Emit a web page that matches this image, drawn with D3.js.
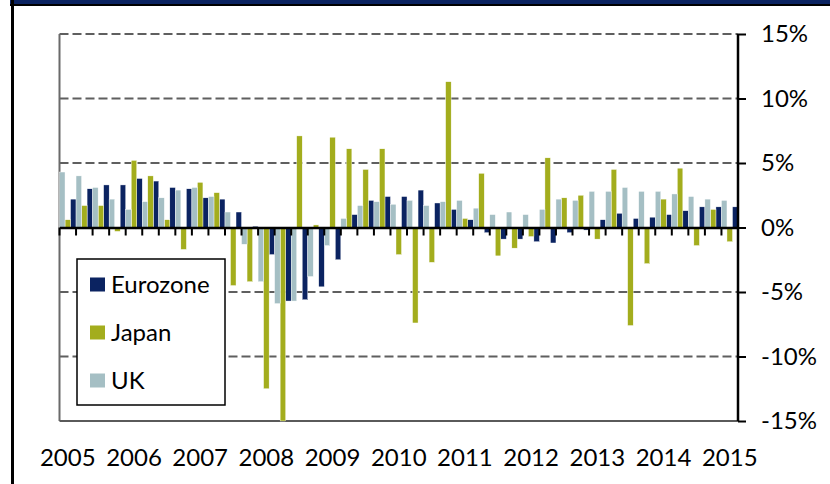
<!DOCTYPE html>
<html>
<head>
<meta charset="utf-8">
<script src="https://cdn.jsdelivr.net/npm/d3@7"></script>
<style>
  html, body { margin: 0; padding: 0; background: #fff; }
  svg { display: block; font-family: Lato, "Open Sans", sans-serif; }
</style>
</head>
<body>
<div id="chart"></div>
<script>
// Quarterly GDP growth, 2005 Q1 - 2015 Q1
const quarters = d3.range(41);
const yearLabels = ["2005", "2006", "2007", "2008", "2009", "2010", "2011", "2012", "2013", "2014", "2015"];
const yTicks = [-15, -10, -5, 0, 5, 10, 15];

const eurozone = [2.2, 3.0, 3.3, 3.3, 3.8, 3.6, 3.1, 3.0, 2.3, 2.2, 1.2, 0.1, -2.1, -5.7, -5.6, -4.6,
  -2.5, 1.0, 2.1, 2.4, 2.4, 2.9, 1.9, 1.4, 0.6, -0.4, -0.9, -0.9, -1.1, -1.2, -0.4, -0.2,
  0.6, 1.1, 0.7, 0.8, 1.0, 1.3, 1.6, 1.6, 1.6];
const japan = [0.6, 1.7, 1.7, -0.3, 5.2, 4.0, 0.6, -1.7, 3.5, 2.7, -4.5, -4.2, -12.5, -15.0, 7.1, 0.2,
  7.0, 6.1, 4.5, 6.1, -2.1, -7.4, -2.7, 11.3, 0.7, 4.2, -2.2, -1.6, -0.7, 5.4, 2.3, 2.5,
  -0.9, 4.5, -7.6, -2.8, 2.2, 4.6, -1.4, 1.4, -1.1];
const uk = [4.3, 4.0, 3.1, 2.2, 1.4, 2.0, 2.3, 2.9, 3.1, 2.4, 1.2, -1.3, -4.2, -5.9, -5.7, -3.8,
  -1.4, 0.7, 1.7, 2.0, 1.8, 2.1, 1.7, 2.0, 2.1, 1.5, 1.0, 1.2, 1.0, 1.4, 2.2, 2.1,
  2.8, 2.8, 3.1, 2.8, 2.8, 2.6, 2.4, 2.2, 2.1];

const series = [
  { name: "Eurozone", values: eurozone, color: "#0b2361" },
  { name: "Japan", values: japan, color: "#a3ad1d" },
  { name: "UK", values: uk, color: "#a5bfc4" }
];
// order of the bars inside each quarter, left to right
const barOrder = ["UK", "Japan", "Eurozone"];

const width = 830, height = 484;
const fontSize = "24px";
const svg = d3.select("#chart").append("svg")
  .attr("width", width).attr("height", height);

// outer frame
svg.append("rect").attr("x", 10).attr("y", 0).attr("width", 820).attr("height", 4).attr("fill", "#0b2361");
svg.append("rect").attr("x", 10).attr("y", 4).attr("width", 820).attr("height", 2).attr("fill", "#000");
svg.append("rect").attr("x", 11).attr("y", 0).attr("width", 3).attr("height", height).attr("fill", "#000");

const plotLeft = 59.5, plotRight = 738, plotTop = 34, plotBottom = 421;

const x = d3.scaleBand().domain(quarters).range([plotLeft, plotRight]).padding(0);
const xSub = d3.scaleBand().domain(barOrder).range([0, x.bandwidth()]).padding(0);
const y = d3.scaleLinear().domain([-15, 15]).range([plotBottom, plotTop]);

// dashed gridlines
svg.append("g").selectAll("line")
  .data(yTicks.filter(d => d !== 0 && d !== -15))
  .join("line")
  .attr("x1", plotLeft).attr("x2", plotRight)
  .attr("y1", d => y(d)).attr("y2", d => y(d))
  .attr("stroke", "#5f5f5f").attr("stroke-width", 2)
  .attr("stroke-dasharray", "9,4");

// plot border left & bottom
svg.append("line").attr("x1", plotLeft).attr("x2", plotLeft).attr("y1", plotTop).attr("y2", plotBottom)
  .attr("stroke", "#6a6a6a").attr("stroke-width", 2);
svg.append("line").attr("x1", plotLeft).attr("x2", plotRight).attr("y1", plotBottom).attr("y2", plotBottom)
  .attr("stroke", "#5a5a5a").attr("stroke-width", 2);

// bars
series.forEach(s => {
  svg.append("g").selectAll("rect")
    .data(s.values)
    .join("rect")
    .attr("x", (d, i) => x(quarters[i]) + xSub(s.name))
    .attr("width", xSub.bandwidth())
    .attr("y", d => y(Math.max(0, d)))
    .attr("height", d => Math.abs(y(d) - y(0)))
    .attr("fill", s.color)
    .attr("stroke", "#ffffff").attr("stroke-width", 0.4);
});

// zero axis with category ticks
const xAxis = d3.axisBottom(x).tickSize(0).tickFormat("");
svg.append("g").attr("transform", `translate(0,${y(0)})`).call(xAxis)
  .call(g => g.select(".domain").attr("stroke", "#000").attr("stroke-width", 2.5));
svg.append("g").selectAll("line")
  .data(d3.range(quarters.length + 1))
  .join("line")
  .attr("x1", i => plotLeft + i * x.step()).attr("x2", i => plotLeft + i * x.step())
  .attr("y1", y(0)).attr("y2", y(0) + 8)
  .attr("stroke", "#000").attr("stroke-width", 2);

// right axis
const yAxis = d3.axisRight(y).tickValues(yTicks).tickSize(8).tickPadding(15)
  .tickFormat(d => d + "%");
svg.append("g").attr("transform", `translate(${plotRight},0)`).call(yAxis)
  .call(g => g.select(".domain").attr("stroke", "#000").attr("stroke-width", 2.5)
    .attr("d", `M0,${plotTop}V${plotBottom}`))
  .call(g => g.selectAll(".tick line").attr("stroke", "#000").attr("stroke-width", 2))
  .call(g => g.selectAll(".tick text").attr("fill", "#000")
    .style("font-size", fontSize).style("font-family", "Lato, 'Open Sans', sans-serif"));

// year labels under Q1 of each year
svg.append("g").selectAll("text")
  .data(yearLabels)
  .join("text")
  .attr("x", (d, i) => x(quarters[i * 4]) + x.bandwidth() / 2)
  .attr("y", 466)
  .attr("text-anchor", "middle")
  .style("font-size", fontSize)
  .text(d => d);

// legend
const legend = svg.append("g");
legend.append("rect").attr("x", 77).attr("y", 259).attr("width", 148).attr("height", 146)
  .attr("fill", "#fff").attr("stroke", "#000").attr("stroke-width", 1.5);
series.forEach((s, i) => {
  const cy = 284.5 + i * 48;
  legend.append("rect").attr("x", 90).attr("y", cy - 7).attr("width", 15).attr("height", 14)
    .attr("fill", s.color);
  legend.append("text").attr("x", 111).attr("y", cy + 8.5)
    .style("font-size", fontSize).text(s.name);
});
</script>
</body>
</html>
